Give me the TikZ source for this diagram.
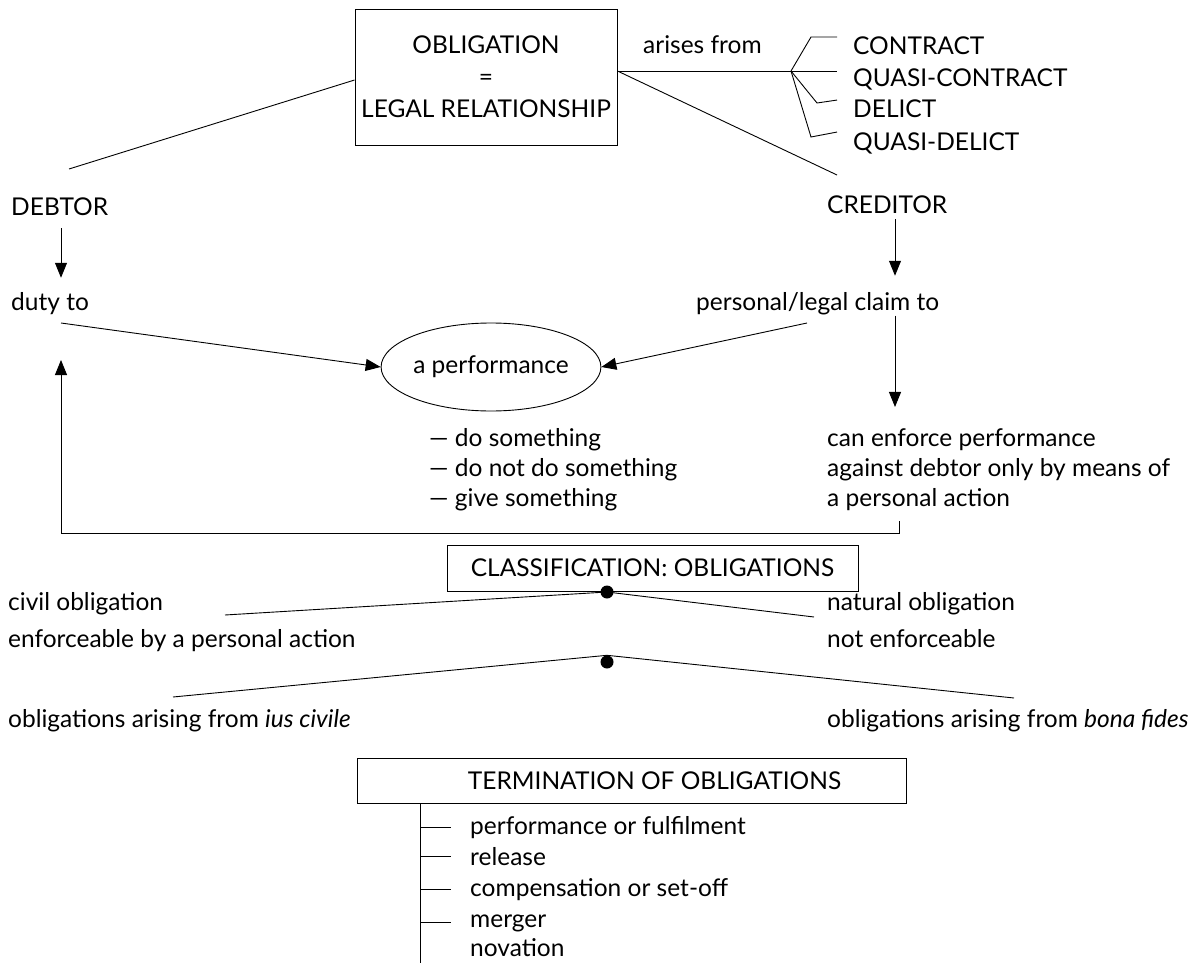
\documentclass[tikz,border=0pt]{standalone}
\usepackage{fontspec}
\setmainfont{Lato}
\usetikzlibrary{arrows.meta,shapes.geometric}
\newcommand{\dsize}{\fontsize{24.5pt}{32pt}\selectfont}

\tikzset{
  txt/.style={anchor=base west,inner sep=0pt,font=\dsize},
  frame/.style={draw,line width=0.9pt,inner sep=0pt,font=\dsize},
  ln/.style={line width=0.9pt},
  arr/.style={ln,-{Triangle[length=15pt,width=12pt]}},
  blob/.style={circle,fill,inner sep=0pt,minimum size=13pt},
}

\begin{document}
\begin{tikzpicture}[x=1pt,y=-1pt]
  \useasboundingbox (0,0) rectangle (1194,963);

  \node[frame,align=center,minimum width=262pt,minimum height=136pt] (ob) at (486,77) {OBLIGATION\\=\\LEGAL RELATIONSHIP};
  \node[txt] (af) at (643,54) {arises from};
  \coordinate (br) at (791,71);
  \coordinate (be) at (837,0);
  \node[txt] (c1) at (853,55) {CONTRACT};
  \node[txt] (c2) at (853,87) {QUASI-CONTRACT};
  \node[txt] (c3) at (853,118) {DELICT};
  \node[txt] (c4) at (853,150) {QUASI-DELICT};
  \draw[ln] (ob.east |- br) -- (br);
  \draw[ln] (br) -- ++(20,-34) -- (be |- c1.north west);
  \draw[ln] (br) -- (be |- br);
  \draw[ln] (br) -- ++(26,32) -- (be |- c3.north west);
  \draw[ln] (br) -- ++(20,66) -- (be |- c4.north west);

  % debtor and creditor
  \node[txt] (db) at (11,215) {DEBTOR};
  \node[txt] (cr) at (827,213) {CREDITOR};
  \coordinate (dl) at (69,169);
  \coordinate (dr) at (837,175);
  \draw[ln] ([yshift=-3pt]ob.west) -- (dl);
  \draw[ln] (ob.east |- br) -- (dr);

  \node[txt] (du) at (11,310) {duty to};
  \node[txt] (pc) at (696,310) {personal/legal claim to};
  \coordinate (xl) at (61,0);
  \coordinate (xr) at (895,0);
  \draw[arr,shorten <=13pt,shorten >=14pt] (xl |- db.south) -- (xl |- du.north);
  \draw[arr,shorten <=6pt,shorten >=16pt] (xr |- cr.south) -- (xr |- pc.north);

  \node[draw,ellipse,line width=0.9pt,minimum width=180pt,minimum height=88pt,inner sep=0pt,font=\dsize] (pf) at (491,367) {a performance};
  \coordinate (ds) at (61,323);
  \coordinate (cs) at (807,323);
  \draw[arr] (ds) -- (pf.west);
  \draw[arr] (cs) -- (pf.east);

  \node[txt] (g1) at (429,446) {--- do something};
  \node[txt] (g2) at (429,476) {--- do not do something};
  \node[txt] (g3) at (429,506) {--- give something};
  \node[txt] (e1) at (827,446) {can enforce performance};
  \node[txt] (e2) at (827,476) {against debtor only by means of};
  \node[txt] (e3) at (827,506) {a personal action};
  \draw[arr,shorten <=1pt,shorten >=21pt] (xr |- pc.south) -- (xr |- e1.north);

  % back to the duty
  \coordinate (fb) at (899,521);
  \coordinate (fe) at (61,360);
  \draw[arr] (fb) -- ++(0,12) -| (fe);

  % classification
  \node[frame,minimum width=411pt,minimum height=46pt] (cl) at (652.5,568) {CLASSIFICATION: OBLIGATIONS};
  \node[txt] (cv) at (8,610) {civil obligation};
  \node[txt] (ce) at (8,647) {enforceable by a personal action};
  \node[txt] (nt) at (827,610) {natural obligation};
  \node[txt] (ne) at (827,647) {not enforceable};
  \coordinate (cvl) at (225,615);
  \coordinate (ntl) at (814,617);
  \draw[ln] (607,592) -- (cvl);
  \draw[ln] (607,592) -- (ntl);
  \node[blob] (d1) at (607,592) {};

  \node[txt] (ic) at (8,727) {obligations arising from \textit{ius civile}};
  \node[txt] (bf) at (827,727) {obligations arising from \textit{bona fides}};
  \node[blob] (d2) at (607,662) {};
  \coordinate (icl) at (173,697);
  \coordinate (bfl) at (1014,698);
  \draw[ln] (d2.north) -- (icl);
  \draw[ln] (d2.north) -- (bfl);

  % termination
  \node[frame,minimum width=549pt,minimum height=45pt] (tm) at (631.5,780.5) {\hspace*{46pt}TERMINATION OF OBLIGATIONS};
  \node[txt] (t1) at (470,834) {performance or fulfilment};
  \node[txt] (t2) at (470,865) {release};
  \node[txt] (t3) at (470,896) {compensation or set-off};
  \node[txt] (t4) at (470,927) {merger};
  \node[txt] (t5) at (470,956) {novation};
  \coordinate (tl) at (420,963);
  \draw[ln] (tl |- tm.south) -- (tl);
  \draw[ln] (tl |- t1.west) -- ++(31,0);
  \draw[ln] (tl |- t2.west) -- ++(31,0);
  \draw[ln] (tl |- t3.west) -- ++(31,0);
  \draw[ln] (tl |- t4.west) -- ++(31,0);
\end{tikzpicture}
\end{document}
